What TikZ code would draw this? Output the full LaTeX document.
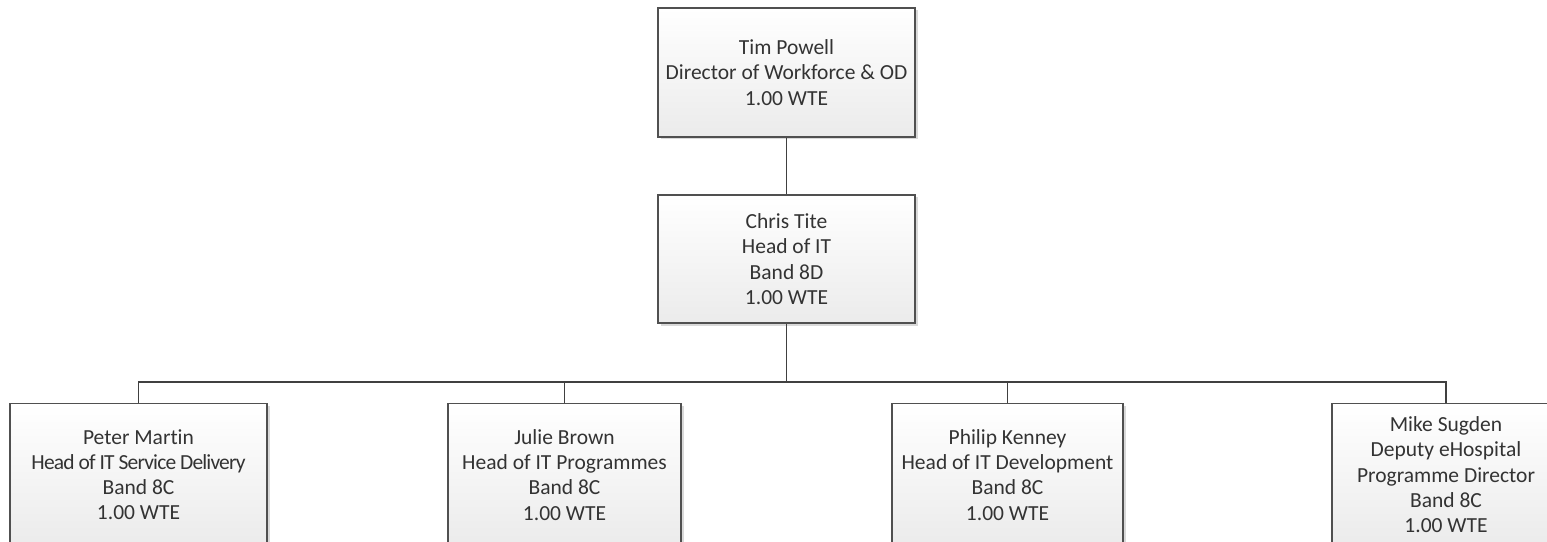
\documentclass[tikz,border=0pt]{standalone}
\usepackage{fontspec}
\setmainfont[Ligatures={NoCommon}]{Carlito}
\usetikzlibrary{shadows}
\definecolor{boxline}{HTML}{505050}
\definecolor{conn}{HTML}{404040}
\definecolor{boxbot}{HTML}{EBEBEB}
\tikzset{
  person/.style={draw=boxline, line width=1.4bp, rectangle, align=center,
    top color=white, bottom color=boxbot, inner sep=0pt,
    font=\fontsize{21.5bp}{25.3bp}\selectfont, text=black!80,
    drop shadow={shadow xshift=2.5bp, shadow yshift=-2.5bp, fill=black, opacity=0.15}},
  conline/.style={draw=conn, line width=1.4bp}
}
\begin{document}
\begin{tikzpicture}[x=1bp,y=-1bp]
\useasboundingbox (0,0) rectangle (1547,542);
\clip (0,0) rectangle (1547,542);
\fill[white] (0,0) rectangle (1547,542);
\node[person, minimum width=257bp, minimum height=129bp] (tim) at (786.5,72.5)
  {Tim Powell\\Director of Workforce \& OD\\1.00 WTE};
\node[person, minimum width=257bp, minimum height=128bp] (chris) at (786.5,259)
  {Chris Tite\\Head of IT\\Band 8D\\1.00 WTE};
\node[person, minimum width=257bp, minimum height=142bp, anchor=north] (peter) at (138.5,403)
  {Peter Martin\\{\addfontfeature{LetterSpace=-4}Head of IT Service Delivery}\\Band 8C\\1.00 WTE};
\node[person, minimum width=233bp, minimum height=142bp, anchor=north] (julie) at (564.5,403)
  {Julie Brown\\Head of IT Programmes\\Band 8C\\1.00 WTE};
\node[person, minimum width=231bp, minimum height=142bp, anchor=north] (philip) at (1007.5,403)
  {Philip Kenney\\Head of IT Development\\Band 8C\\1.00 WTE};
\node[person, minimum width=228bp, minimum height=142bp, anchor=north] (mike) at (1446,403)
  {Mike Sugden\\Deputy eHospital\\Programme Director\\Band 8C\\1.00 WTE};
\coordinate (bus) at (786.5,382);
\draw[conline] (tim.south) -- (chris.north);
\draw[conline] (chris.south) -- (bus);
\draw[conline] (peter.north) |- (bus) -| (mike.north);
\draw[conline] (julie.north) -- (julie.north |- bus);
\draw[conline] (philip.north) -- (philip.north |- bus);
\end{tikzpicture}
\end{document}
